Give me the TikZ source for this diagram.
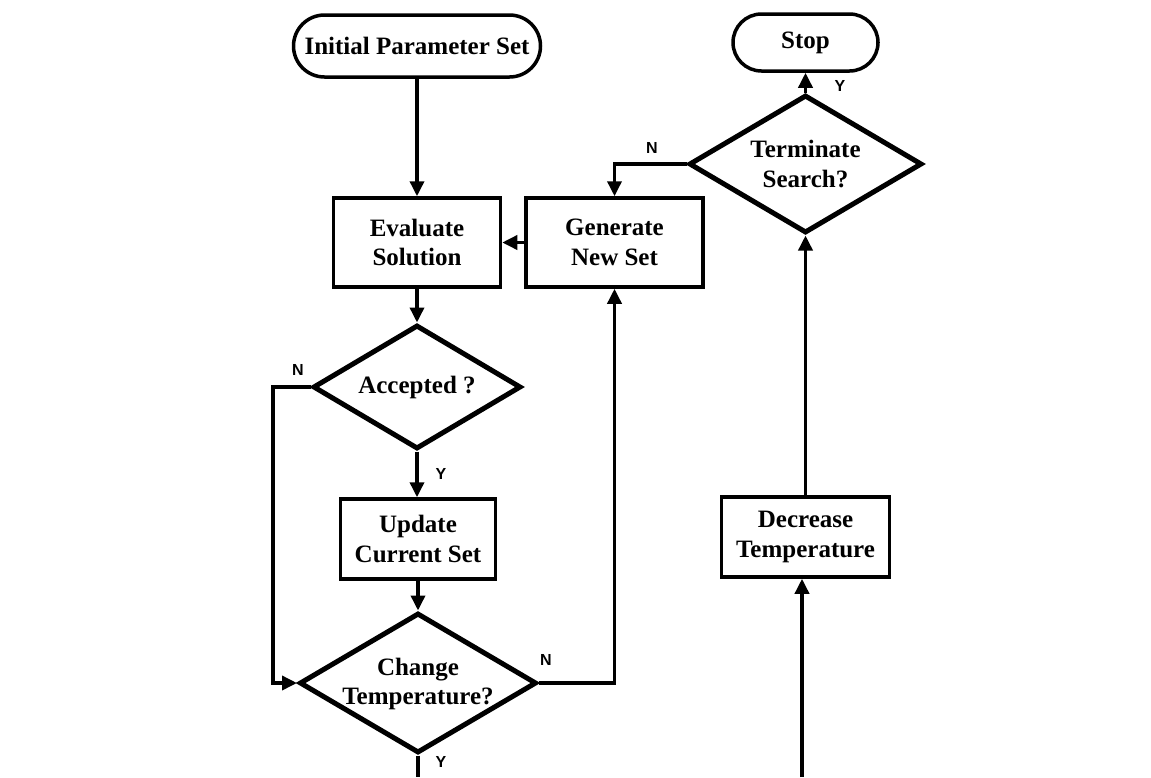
\documentclass[tikz,border=0pt]{standalone}
\usepackage{fontspec}
\setmainfont{Liberation Serif}
\newfontfamily\labfont{Liberation Sans}
\usetikzlibrary{shapes.geometric,arrows.meta}
\begin{document}
\begin{tikzpicture}[x=1pt,y=-1pt,
  txt/.style={align=center,font=\fontsize{25}{29.5}\selectfont\bfseries},
  box/.style={draw,line width=3.5pt,rectangle,inner sep=0pt,txt},
  termbox/.style={box},
  decision/.style={draw,diamond,line width=5pt,inner sep=0pt},
  dectext/.style={txt,inner sep=0pt},
  conn/.style={line width=3.5pt,-{Triangle[length=15pt,width=14pt]}},
  plain/.style={line width=3.5pt},
  yn/.style={font=\labfont\bfseries\fontsize{16}{18}\selectfont,inner sep=0pt}]
\useasboundingbox (0,0) rectangle (1151,777);
\fill[white] (0,0) rectangle (1151,777);

\node[termbox, minimum width=247pt, minimum height=62pt, rounded corners=31pt] (init) at (417,46) {Initial Parameter Set};
\node[box, minimum width=167pt, minimum height=89pt] (eval) at (417,242.5) {Evaluate\\Solution};
\node[box, minimum width=177pt, minimum height=89pt] (gen) at (614.5,242.5) {Generate\\New Set};
\node[termbox, minimum width=145pt, minimum height=57pt, rounded corners=28.5pt] (stop) at (805.5,42.5) {Stop};
\node[decision, minimum width=233pt, minimum height=138pt] (term) at (805.5,164) {};
\node[dectext] (termt) at (805.5,164) {Terminate\\Search?};
\node[decision, minimum width=208pt, minimum height=124pt] (acc) at (417,387) {};
\node[dectext] (acct) at (417,387) {Accepted ?};
\node[box, minimum width=155pt, minimum height=80pt] (upd) at (418,539) {Update\\Current Set};
\node[decision, minimum width=237pt, minimum height=140pt] (chg) at (418,683) {};
\node[dectext] (chgt) at (418,684) {Change\\Temperature?};
\node[box, minimum width=168pt, minimum height=80pt] (decr) at (805.5,537) {Decrease\\Temperature};

\coordinate (lp) at (273,387);
\coordinate (bot1) at (418,777);
\coordinate (bot2) at (802,777);

\draw[conn] (init.south) -- (init.south |- eval.north);
\draw[conn] (gen.west) -- (eval.east);
\draw[conn] (term.north) -- (stop.south);
\draw[conn] (term.west) -| (gen.north);
\draw[conn] (eval.south) -- (acc.north);
\draw[conn] (acc.south) -- (acc.south |- upd.north);
\draw[conn] (acc.west) -- (lp) |- (chg.west);
\draw[conn] (upd.south) -- (chg.north);
\draw[conn] (chg.east) -| (gen.south);
\draw[plain] (chg.south) -- (bot1);
\draw[conn] (bot2) -- (bot2 |- decr.south);
\draw[conn] (decr.north) -- (term.south);

\node[yn] (n1) at (652,148) {N};
\node[yn] (y1) at (840,86) {Y};
\node[yn] (n2) at (298,370) {N};
\node[yn] (y2) at (441,474) {Y};
\node[yn] (n3) at (546,660) {N};
\node[yn] (y3) at (441,762) {Y};
\end{tikzpicture}
\end{document}
